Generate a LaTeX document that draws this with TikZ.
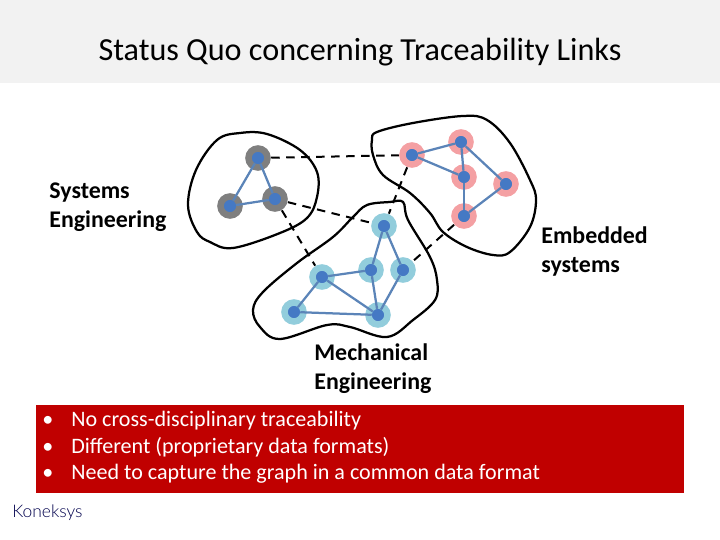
\documentclass[tikz,border=0pt]{standalone}
\usepackage{fontspec}
\setmainfont{Carlito}
\newfontfamily\logofont{Lato Light}
\definecolor{bandgray}{HTML}{F2F2F2}
\definecolor{boxred}{HTML}{C00000}
\definecolor{nodeblue}{HTML}{4579C4}
\definecolor{edgeblue}{HTML}{5B84B8}
\definecolor{halogray}{HTML}{7F7F7F}
\definecolor{halored}{HTML}{F4A0A3}
\definecolor{haloblue}{HTML}{92CDDC}
\begin{document}
\begin{tikzpicture}[x=0.02cm,y=-0.02cm]
      \useasboundingbox(0,0) rectangle (720,540);
      \tikzset{V/.style = {shape=circle, fill=nodeblue, line width=0.13cm, minimum size=0.38cm, inner sep=0pt, outer sep=-0.065cm}}
      \tikzset{S/.style = {V, draw=halogray}}
      \tikzset{R/.style = {V, draw=halored}}
      \tikzset{B/.style = {V, draw=haloblue}}
      \tikzset{E/.style = {draw=edgeblue, line width=0.045cm}}
      \tikzset{D/.style = {draw=black, line width=0.04cm, dash pattern=on 0.17cm off 0.13cm, shorten <=0.14cm, shorten >=0.14cm}}
      \tikzset{blob/.style = {draw=black, line width=0.045cm, smooth cycle, tension=0.6}}
      \tikzset{L/.style = {anchor=north west, align=left, font=\fontsize{13.6}{16.5}\selectfont\bfseries, inner sep=0pt}}
      \node[fill=bandgray, minimum width=14.4cm, minimum height=1.66cm, inner sep=0pt, anchor=north west](band) at (0,0) {};
      \node[font=\fontsize{18.3}{21}\selectfont](title) at (360,52) {Status Quo concerning Traceability Links};
      \draw[blob] plot coordinates {(217,140) (240,133) (267,134) (300,150) (317,172) (317,197) (307,218) (280,233) (233,248) (210,242) (197,232) (188,205) (196,170)};
      \draw[blob] plot coordinates {(372,140) (377,132) (413,123) (463,116) (487,120) (510,143) (530,180) (536,200) (530,227) (510,252) (493,255) (467,247) (443,232) (430,213) (410,193) (383,175) (373,155)};
      \draw[blob] plot coordinates {(403,202) (408,220) (430,257) (437,280) (435,300) (413,320) (387,337) (350,327) (327,325) (280,339) (260,327) (253,310) (263,292) (297,263) (333,237) (353,217) (367,205) (390,202)};
      \node[S](s0) at (258,158) {};
      \node[S](s1) at (230,206) {};
      \node[S](s2) at (275,199) {};
      \node[R](e0) at (412,155) {};
      \node[R](e1) at (461,142) {};
      \node[R](e2) at (464,177) {};
      \node[R](e3) at (506,184) {};
      \node[R](e4) at (464,216) {};
      \node[B](m0) at (384,226) {};
      \node[B](m1) at (322,277) {};
      \node[B](m2) at (371,270) {};
      \node[B](m3) at (403,270) {};
      \node[B](m4) at (294,312) {};
      \node[B](m5) at (378,315) {};
      \draw[E](s0) to (s1);
      \draw[E](s0) to (s2);
      \draw[E](s1) to (s2);
      \draw[E](e0) to (e1);
      \draw[E](e0) to (e2);
      \draw[E](e1) to (e2);
      \draw[E](e1) to (e3);
      \draw[E](e2) to (e4);
      \draw[E](e3) to (e4);
      \draw[E](m0) to (m2);
      \draw[E](m0) to (m3);
      \draw[E](m1) to (m2);
      \draw[E](m1) to (m4);
      \draw[E](m1) to (m5);
      \draw[E](m2) to (m5);
      \draw[E](m3) to (m5);
      \draw[E](m4) to (m5);
      \draw[D](s0) to (e0);
      \draw[D](s2) to (m0);
      \draw[D](s2) to (m1);
      \draw[D](e0) to (m0);
      \draw[D](e4) to (m3);
      \node[L](syslabel) at (49,182) {Systems\\Engineering};
      \node[L](emblabel) at (541,226) {Embedded\\systems};
      \node[L](mechlabel) at (314,343) {Mechanical\\Engineering};
      \node[fill=boxred, text=white, anchor=north west, minimum width=12.96cm, minimum height=1.76cm, inner sep=0pt](redbox) at (36,405) {};
      \node[anchor=north west, text=white, align=left, inner sep=0pt, font=\fontsize{12.56}{15.1}\selectfont](bullets) at (42,411) {\textbullet\hspace{0.36cm}No cross-disciplinary traceability\\\textbullet\hspace{0.36cm}Different (proprietary data formats)\\\textbullet\hspace{0.36cm}Need to capture the graph in a common data format};
      \node[anchor=west, inner sep=0pt, text=black!70!blue, font=\fontsize{9.9}{12}\logofont](logo) at (12,513) {Koneksys};
    \end{tikzpicture}
\end{document}
